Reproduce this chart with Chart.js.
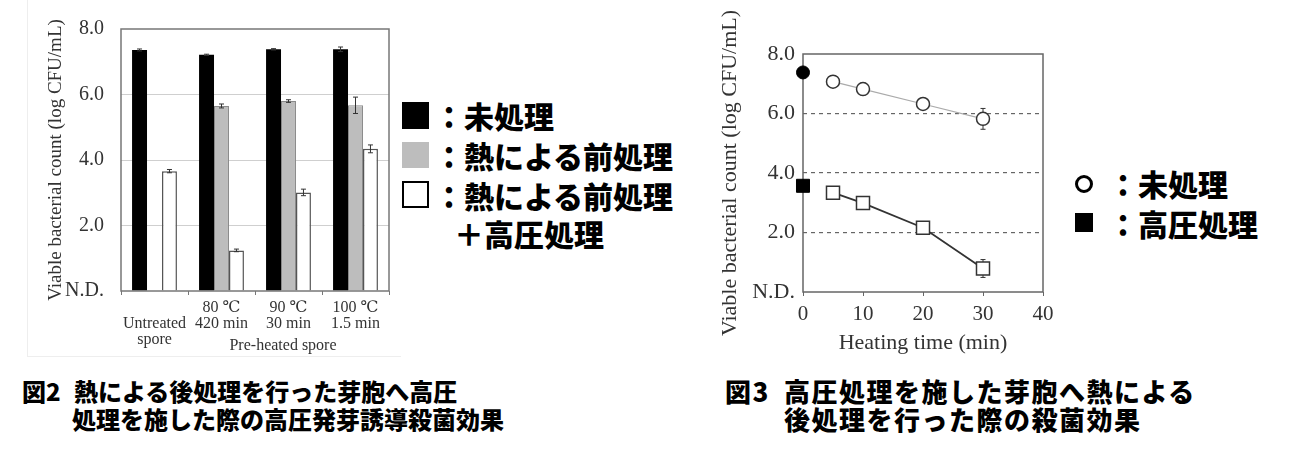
<!DOCTYPE html>
<html>
<head>
<meta charset="utf-8">
<script src="https://cdn.jsdelivr.net/npm/chart.js@4/dist/chart.umd.min.js"></script>
<style>
  html, body { margin:0; padding:0; background:#fff; width:1310px; height:472px; overflow:hidden; }
  .abs { position:absolute; }
  .jp { font-family:"Noto Sans CJK JP","Noto Sans",sans-serif; font-weight:900; color:#000; white-space:nowrap; }
  .leg { font-size:30px; line-height:30px; height:30px; }
  .cap1 { font-size:24px; line-height:28px; }
  .cap2 { font-size:26px; line-height:28px; letter-spacing:1.5px; }
</style>
</head>
<body>
<script>
// ---------- Figure 2 data (bar chart) ----------
const barCategories = [['', 'Untreated', 'spore'], ['80 ℃', '420 min'], ['90 ℃', '30 min'], ['100 ℃', '1.5 min']];
const barUntreated    = [7.36, 7.21, 7.38, 7.38];
const barUntreatedErr = [0.03, 0.02, 0.02, 0.07];
const barHeat         = [null, 5.65, 5.80, 5.67];
const barHeatErr      = [0, 0.06, 0.04, 0.25];
const barHeatHP       = [3.66, 1.24, 3.01, 4.34];
const barHeatHPErr    = [0.05, 0.04, 0.10, 0.12];
const yTickLabels     = ['N.D.', '2.0', '4.0', '6.0', '8.0'];
const barSeriesNames  = ['未処理', '熱による前処理', '熱による前処理＋高圧処理'];

// ---------- Figure 3 data (line chart) ----------
const heatTimes        = [5, 10, 20, 30];
const lineUntreated    = [7.07, 6.82, 6.32, 5.82];
const lineUntreatedErr = [0.15, 0.2, 0.18, 0.35];
const lineHP           = [3.34, 2.99, 2.16, 0.79];
const lineHPErr        = [0.1, 0.18, 0.12, 0.3];
const startTime        = [0];
const startUntreated   = [7.38];
const startHP          = [3.57];
const lineSeriesNames  = ['未処理', '高圧処理'];
</script>

<div class="abs" style="left:27px;top:0;width:373px;height:356px;border-left:1px solid #eeeeee;border-bottom:1px solid #eeeeee;"></div>
<canvas id="c1" class="abs" width="400" height="360" style="left:0;top:0;"></canvas>
<canvas id="c2" class="abs" width="360" height="372" style="left:700px;top:0;"></canvas>

<div class="abs" style="left:225px;top:336px;width:116px;text-align:center;font-family:'Liberation Serif',serif;font-size:16px;line-height:18px;color:#333;">Pre-heated spore</div>

<!-- Legend figure 2 -->
<div class="abs" style="left:402px;top:102px;width:27px;height:27px;background:#000;"></div>
<div class="abs jp leg" style="left:434px;top:100px;">：未処理</div>
<div class="abs" style="left:402px;top:142px;width:27px;height:26px;background:#bdbdbd;"></div>
<div class="abs jp leg" style="left:434px;top:140px;">：熱による前処理</div>
<div class="abs" style="left:402px;top:181px;width:27px;height:27px;background:#fff;border:2.5px solid #000;box-sizing:border-box;"></div>
<div class="abs jp leg" style="left:434px;top:180px;">：熱による前処理</div>
<div class="abs jp leg" style="left:454px;top:218px;">＋高圧処理</div>

<!-- Legend figure 3 -->
<div class="abs" style="left:1075px;top:175px;width:18px;height:18px;border:3px solid #000;border-radius:50%;box-sizing:border-box;"></div>
<div class="abs jp leg" style="left:1108px;top:168px;">：未処理</div>
<div class="abs" style="left:1075px;top:213px;width:18px;height:19px;background:#000;"></div>
<div class="abs jp leg" style="left:1108px;top:208px;">：高圧処理</div>

<!-- Captions -->
<div class="abs jp cap1" style="left:22px;top:377px;">図2</div>
<div class="abs jp cap1" style="left:74px;top:377px;">熱による後処理を行った芽胞へ高圧</div>
<div class="abs jp cap1" style="left:72px;top:405px;">処理を施した際の高圧発芽誘導殺菌効果</div>
<div class="abs jp cap2" style="left:725px;top:377px;">図3</div>
<div class="abs jp cap2" style="left:784px;top:377px;">高圧処理を施した芽胞へ熱による</div>
<div class="abs jp cap2" style="left:784px;top:405px;">後処理を行った際の殺菌効果</div>

<script>
const serif = "'Liberation Serif','DejaVu Serif',serif";
const txtColor = '#333';

const errBarsPlugin = {
  id: 'errbars',
  draw(chart) {
    const ctx = chart.ctx, ys = chart.scales.y;
    ctx.save();
    ctx.strokeStyle = '#333';
    ctx.lineWidth = 1;
    chart.data.datasets.forEach((ds, i) => {
      if (!ds.errors) return;
      const meta = chart.getDatasetMeta(i);
      meta.data.forEach((el, j) => {
        const raw = ds.data[j];
        const v = (raw !== null && typeof raw === 'object') ? raw.y : raw;
        const e = ds.errors[j];
        if (v === null || v === undefined || !e) return;
        const x = el.x;
        const y1 = ys.getPixelForValue(v + e), y2 = ys.getPixelForValue(v - e);
        ctx.beginPath();
        ctx.moveTo(x, y1); ctx.lineTo(x, y2);
        ctx.moveTo(x - 2.5, y1); ctx.lineTo(x + 2.5, y1);
        ctx.moveTo(x - 2.5, y2); ctx.lineTo(x + 2.5, y2);
        ctx.stroke();
      });
    });
    ctx.restore();
  },
  beforeDatasetsDraw(chart, args, opts) { if (opts.before) this.draw(chart); },
  afterDatasetsDraw(chart, args, opts) { if (!opts.before) this.draw(chart); }
};

const framePlugin = {
  id: 'frame',
  drawFrame(chart, opts) {
    const {ctx, chartArea: a} = chart;
    ctx.save();
    ctx.strokeStyle = opts.color || '#666';
    ctx.lineWidth = opts.width || 1.5;
    ctx.strokeRect(a.left, a.top, a.right - a.left, a.bottom - a.top);
    ctx.restore();
  },
  beforeDatasetsDraw(chart, args, opts) { if (opts.before) this.drawFrame(chart, opts); },
  afterDatasetsDraw(chart, args, opts) { if (!opts.before) this.drawFrame(chart, opts); }
};

// ---------- Figure 2 ----------
new Chart(document.getElementById('c1'), {
  type: 'bar',
  data: {
    labels: barCategories,
    datasets: [
      { label: barSeriesNames[0], data: barUntreated, errors: barUntreatedErr,
        backgroundColor: '#000', borderColor: '#000', borderWidth: 0 },
      { label: barSeriesNames[1], data: barHeat, errors: barHeatErr,
        backgroundColor: '#bdbdbd', borderColor: '#8a8a8a', borderWidth: 1 },
      { label: barSeriesNames[2], data: barHeatHP, errors: barHeatHPErr,
        backgroundColor: '#fff', borderColor: '#555', borderWidth: 1.5 }
    ]
  },
  options: {
    responsive: false, animation: false,
    categoryPercentage: 0.67, barPercentage: 1.0,
    layout: { padding: { top: 24, right: 11, left: 0, bottom: 0 } },
    plugins: { legend: { display: false }, tooltip: { enabled: false },
      errbars: { before: false }, frame: { before: false, color: '#777', width: 1.5 } },
    scales: {
      y: {
        min: 0, max: 8,
        afterFit: s => { s.width = 121; },
        ticks: { stepSize: 2, padding: 17, color: txtColor, font: { family: serif, size: 20 },
                 callback: (v, i) => yTickLabels[i] },
        grid: { drawTicks: false, color: c => (c.tick && c.tick.value > 0 && c.tick.value < 8) ? '#cfcfcf' : 'rgba(0,0,0,0)', lineWidth: 1 },
        border: { display: false },
        title: { display: true, text: 'Viable bacterial count (log CFU/mL)', color: txtColor,
                 font: { family: serif, size: 19 }, padding: { top: 45, bottom: 0 } }
      },
      x: {
        afterFit: s => { s.height = 69; },
        ticks: { padding: 5, color: txtColor, font: { family: serif, size: 16, lineHeight: 1.0 },
                 autoSkip: false, maxRotation: 0, minRotation: 0 },
        grid: { offset: true, drawOnChartArea: false, tickLength: 4, color: '#777' },
        border: { display: false }
      }
    }
  },
  plugins: [errBarsPlugin, framePlugin]
});

// ---------- Figure 3 ----------
new Chart(document.getElementById('c2'), {
  type: 'scatter',
  data: {
    datasets: [
      { label: lineSeriesNames[0], data: heatTimes.map((t, i) => ({ x: t, y: lineUntreated[i] })), errors: lineUntreatedErr,
        showLine: true, borderColor: '#aaa', borderWidth: 1.2,
        pointStyle: 'circle', pointRadius: 6.5, pointBackgroundColor: '#fff', pointBorderColor: '#333', pointBorderWidth: 1.5 },
      { label: lineSeriesNames[1], data: heatTimes.map((t, i) => ({ x: t, y: lineHP[i] })), errors: lineHPErr,
        showLine: true, borderColor: '#333', borderWidth: 1.8,
        pointStyle: 'rect', pointRadius: 9.2, pointBackgroundColor: '#fff', pointBorderColor: '#333', pointBorderWidth: 1.5 },
      { label: lineSeriesNames[0] + ' (0 min)', data: startTime.map((t, i) => ({ x: t, y: startUntreated[i] })), errors: [0.04],
        showLine: false, clip: false, pointStyle: 'circle', pointRadius: 6.5, pointBackgroundColor: '#000', pointBorderColor: '#000', pointBorderWidth: 1 },
      { label: lineSeriesNames[1] + ' (0 min)', data: startTime.map((t, i) => ({ x: t, y: startHP[i] })), errors: [0.04],
        showLine: false, clip: false, pointStyle: 'rect', pointRadius: 9.2, pointBackgroundColor: '#000', pointBorderColor: '#000', pointBorderWidth: 1 }
    ]
  },
  options: {
    responsive: false, animation: false,
    layout: { padding: { top: 54, right: 17, left: 0, bottom: 0 } },
    plugins: { legend: { display: false }, tooltip: { enabled: false },
      errbars: { before: true }, frame: { before: true, color: '#666', width: 1.5 } },
    scales: {
      y: {
        min: 0, max: 8,
        afterFit: s => { s.width = 103; },
        ticks: { stepSize: 2, padding: 8, color: txtColor, font: { family: serif, size: 22 },
                 callback: (v, i) => yTickLabels[i] },
        grid: { drawTicks: false, color: c => (c.tick && c.tick.value > 0 && c.tick.value < 8) ? '#666' : 'rgba(0,0,0,0)', lineWidth: 1.2 },
        border: { display: false, dash: [4, 4] },
        title: { display: true, text: 'Viable bacterial count (log CFU/mL)', color: txtColor,
                 font: { family: serif, size: 22 }, padding: { top: 17, bottom: 0 } }
      },
      x: {
        type: 'linear', min: 0, max: 40,
        afterFit: s => { s.height = 80; },
        ticks: { stepSize: 10, padding: 6, color: txtColor, font: { family: serif, size: 21 } },
        grid: { drawOnChartArea: false, tickLength: 4, color: '#666' },
        border: { display: false },
        title: { display: true, text: 'Heating time (min)', color: txtColor,
                 font: { family: serif, size: 22 }, padding: { top: 0, bottom: 16 } }
      }
    }
  },
  plugins: [errBarsPlugin, framePlugin]
});
</script>
</body>
</html>
